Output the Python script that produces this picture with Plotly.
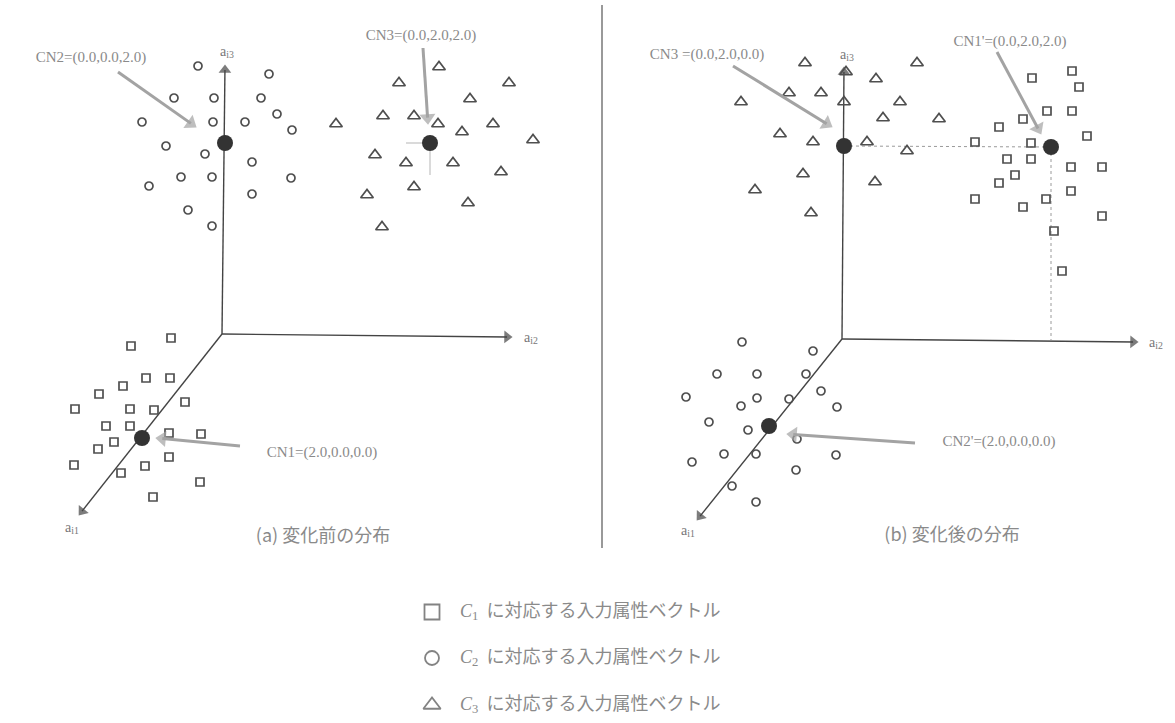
import plotly.graph_objects as go

# ---------------- data (pixel-space diagram coordinates) ----------------
# Panel (a): before change
a_c1_x = [131, 171, 146, 170, 123, 99, 75, 130, 154, 185, 106, 130, 114, 98, 169, 201, 74, 169, 145, 121, 200, 153]
a_c1_y = [346, 338, 378, 378, 386, 394, 409, 409, 410, 402, 426, 426, 442, 449, 433, 434, 465, 457, 466, 473, 482, 497]
a_c2_x = [198, 269, 174, 214, 261, 277, 142, 213, 245, 292, 166, 205, 252, 149, 181, 212, 291, 252, 188, 212]
a_c2_y = [66, 74, 98, 98, 98, 114, 122, 122, 122, 130, 146, 154, 162, 186, 177, 177, 178, 194, 210, 226]
a_c3_x = [439, 399, 509, 470, 336, 383, 414, 438, 462, 493, 533, 375, 406, 453, 501, 414, 367, 468, 382]
a_c3_y = [67, 83, 83, 99, 124, 116, 116, 124, 132, 124, 140, 155, 163, 163, 172, 187, 195, 203, 227]
a_cent_x = [142, 225, 430]
a_cent_y = [438, 143, 143]
a_cent_labels = ["CN1=(2.0,0.0,0.0)", "CN2=(0.0,0.0,2.0)", "CN3=(0.0,2.0,2.0)"]

# Panel (b): after change
b_c1_x = [1072, 1032, 1079, 1047, 1072, 1023, 999, 1087, 975, 1031, 1007, 1031, 1071, 1102, 1015, 999, 975, 1023, 1046, 1071, 1102, 1054, 1062]
b_c1_y = [71, 78, 87, 111, 111, 119, 127, 136, 142, 143, 159, 159, 167, 167, 175, 183, 199, 207, 199, 191, 216, 231, 271]
b_c2_x = [742, 813, 717, 757, 806, 686, 757, 789, 821, 741, 837, 709, 748, 797, 724, 756, 836, 692, 796, 732, 756]
b_c2_y = [342, 351, 374, 374, 374, 397, 398, 399, 391, 406, 407, 422, 430, 439, 454, 454, 455, 462, 470, 486, 502]
b_c3_x = [805, 917, 846, 876, 789, 821, 741, 844, 900, 883, 939, 780, 813, 867, 907, 803, 875, 755, 811]
b_c3_y = [63, 63, 72, 79, 93, 93, 102, 102, 102, 118, 119, 134, 142, 142, 151, 174, 182, 190, 213]
b_cent_x = [1051, 769, 844]
b_cent_y = [147, 426, 146]
b_cent_labels = ["CN1'=(0.0,2.0,2.0)", "CN2'=(2.0,0.0,0.0)", "CN3 =(0.0,2.0,0.0)"]

axis_names = ["a<sub>i1</sub>", "a<sub>i2</sub>", "a<sub>i3</sub>"]
captions = ["(a) 変化前の分布", "(b) 変化後の分布"]
legend_classes = ["1", "2", "3"]
legend_text = "に対応する入力属性ベクトル"

# ---------------- styling ----------------
MK = "#4f4f4f"
TXT = "#8a8a8a"
AX = "#444444"
ARR = "#a3a3a3"
SERIF = "Liberation Serif"
JP = "Noto Sans CJK JP"

fig = go.Figure()

def pts(x, y, symbol, size, width=1.7):
    fig.add_trace(go.Scatter(
        x=x, y=y, mode="markers", hoverinfo="skip", showlegend=False,
        marker=dict(symbol=symbol, size=size, color=MK, line=dict(width=width, color=MK)),
    ))

def texts(x, y, t, family, size, color, pos="middle center"):
    fig.add_trace(go.Scatter(
        x=x, y=y, text=t, mode="text", textposition=pos, hoverinfo="skip", showlegend=False,
        textfont=dict(family=family, size=size, color=color),
    ))

def arrow(tail, head, color, width, head_size):
    fig.add_trace(go.Scatter(
        x=[tail[0], head[0]], y=[tail[1], head[1]], mode="lines+markers",
        hoverinfo="skip", showlegend=False,
        line=dict(color=color, width=width),
        marker=dict(symbol="triangle-up", angleref="previous", size=[0, head_size],
                    standoff=[0, head_size * 0.45], color=color, line=dict(width=0)),
    ))

# guide lines (drawn first, under the markers)
fig.add_trace(go.Scatter(x=[406, a_cent_x[2]], y=[a_cent_y[2], a_cent_y[2]], mode="lines",
                         line=dict(color="#b5b5b5", width=1), hoverinfo="skip", showlegend=False))
fig.add_trace(go.Scatter(x=[a_cent_x[2], a_cent_x[2]], y=[a_cent_y[2], 175], mode="lines",
                         line=dict(color="#b5b5b5", width=1), hoverinfo="skip", showlegend=False))
fig.add_trace(go.Scatter(x=[b_cent_x[2], b_cent_x[0]], y=[b_cent_y[2], b_cent_y[0]], mode="lines",
                         line=dict(color="#9a9a9a", width=1, dash="dot"), hoverinfo="skip", showlegend=False))
fig.add_trace(go.Scatter(x=[b_cent_x[0], b_cent_x[0]], y=[b_cent_y[0], 340], mode="lines",
                         line=dict(color="#9a9a9a", width=1, dash="dot"), hoverinfo="skip", showlegend=False))

# axes (origin -> tips) for both panels
axes = [
    dict(o=(222, 334), tips=[(79, 515), (512, 337), (225, 65)],
         lab=[(72, 528), (531, 338), (227, 52)]),
    dict(o=(842, 339), tips=[(697, 520), (1138, 342), (844, 67)],
         lab=[(688, 531), (1156, 343), (847, 55)]),
]
ax_lab_x, ax_lab_y, ax_lab_t = [], [], []
for p in axes:
    for tip, (lx, ly), nm in zip(p["tips"], p["lab"], axis_names):
        arrow(p["o"], tip, AX, 1.4, 11)
        ax_lab_x.append(lx)
        ax_lab_y.append(ly)
        ax_lab_t.append(nm)
texts(ax_lab_x, ax_lab_y, ax_lab_t, SERIF, 14, "#777777")

# points
pts(a_c1_x, a_c1_y, "square-open", 8)
pts(a_c2_x, a_c2_y, "circle-open", 8)
pts(a_c3_x, a_c3_y, "triangle-up-open", 11)
pts(b_c1_x, b_c1_y, "square-open", 8)
pts(b_c2_x, b_c2_y, "circle-open", 8)
pts(b_c3_x, b_c3_y, "triangle-up-open", 11)

# centroids
fig.add_trace(go.Scatter(x=a_cent_x + b_cent_x, y=a_cent_y + b_cent_y, mode="markers",
                         hoverinfo="skip", showlegend=False,
                         marker=dict(symbol="circle", size=16, color="#333333")))

# centroid label arrows: (text centre, arrow tail, arrow head)
lab_a = [((322, 453), (240, 446), (156, 438)),
         ((91, 58), (118, 72), (196, 127)),
         ((421, 36), (423, 48), (428, 124))]
lab_b = [((1010, 42), (997, 52), (1041, 134)),
         ((999, 442), (915, 443), (787, 434)),
         ((707, 55), (733, 66), (832, 127))]
cn_x, cn_y, cn_t = [], [], []
for labels, specs in ((a_cent_labels, lab_a), (b_cent_labels, lab_b)):
    for txt, ((cx, cy), tail, head) in zip(labels, specs):
        arrow(tail, head, ARR, 3, 14)
        cn_x.append(cx)
        cn_y.append(cy)
        cn_t.append(txt)
texts(cn_x, cn_y, cn_t, SERIF, 15, TXT)

# captions
texts([323, 952], [537, 536], captions, JP, 18, TXT)

# divider
fig.add_shape(type="line", x0=602, x1=602, y0=5, y1=548, xref="x", yref="y",
              line=dict(color="#555555", width=1.2))

# legend block
leg_y = [612, 658, 705]
fig.add_trace(go.Scatter(x=[432, 432, 432], y=leg_y, mode="markers", hoverinfo="skip",
                         showlegend=False,
                         marker=dict(symbol=["square-open", "circle-open", "triangle-up-open"],
                                     size=[15, 14, 15], color=MK, line=dict(width=1.8, color=MK))))
leg_t = [f"<span style='font-family:{SERIF}'><i>C</i><sub>{k}</sub></span>  {legend_text}"
         for k in legend_classes]
texts([460, 460, 460], leg_y, leg_t, JP, 18, TXT, pos="middle right")

fig.update_layout(
    width=1175, height=723, margin=dict(l=0, r=0, t=0, b=0),
    paper_bgcolor="white", plot_bgcolor="white",
    xaxis=dict(range=[0, 1175], visible=False, fixedrange=True),
    yaxis=dict(range=[723, 0], visible=False, fixedrange=True),
    showlegend=False,
)

fig.write_html("out.html")
